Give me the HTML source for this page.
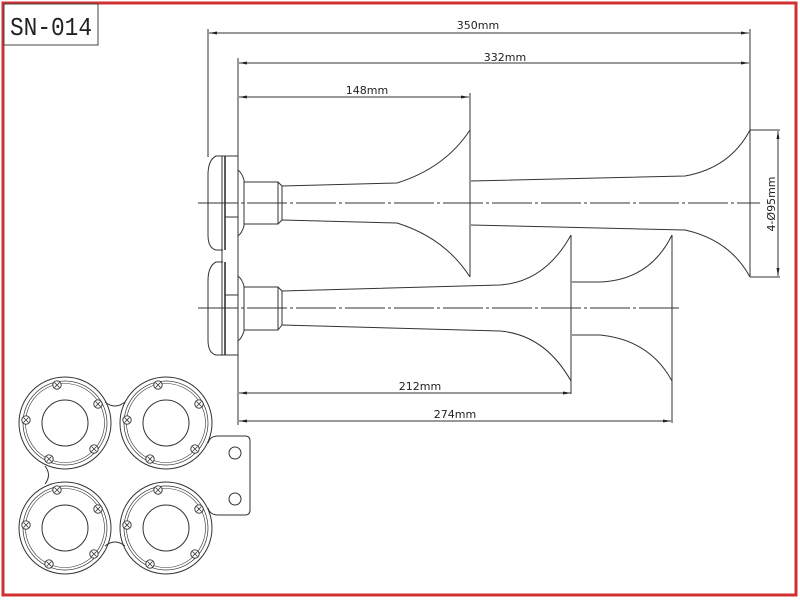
<!DOCTYPE html>
<html><head><meta charset="utf-8"><style>
html,body{margin:0;padding:0;background:#fff;}
svg{display:block;}
text{font-family:"DejaVu Sans","Liberation Sans",sans-serif;fill:#222;}
</style></head><body>
<svg width="800" height="600" viewBox="0 0 800 600" xmlns="http://www.w3.org/2000/svg">
<defs>
<marker id="a" markerWidth="8" markerHeight="6" refX="8" refY="3" orient="auto-start-reverse" markerUnits="userSpaceOnUse"><path d="M0,1.5 L8,3 L0,4.5 z" fill="#222"/></marker>
<g id="scr"><circle r="4.2" fill="#fff" stroke="#333" stroke-width="0.9"/><path d="M-2.5,-2.5 L2.5,2.5 M-2.5,2.5 L2.5,-2.5" stroke="#333" stroke-width="0.8"/></g>
<g id="flange" fill="none" stroke="#333" stroke-width="1">
<circle r="46"/><circle r="42" stroke-width="0.7"/><circle r="39.5" stroke-width="0.6"/><circle r="23"/>
<use href="#scr" x="-8" y="-38"/><use href="#scr" x="33" y="-19"/><use href="#scr" x="29" y="26"/><use href="#scr" x="-16" y="36"/><use href="#scr" x="-39" y="-3"/>
</g>
</defs>
<rect x="3" y="3" width="793" height="592" fill="none" stroke="#d03030" stroke-width="3"/>
<rect x="4" y="4" width="94" height="41" fill="#fff" stroke="#444" stroke-width="1"/>
<text x="10" y="35" font-size="26" textLength="82" lengthAdjust="spacingAndGlyphs" style="font-family:'Liberation Mono',monospace">SN-014</text>

<g fill="none" stroke="#333" stroke-width="1">
<line x1="208" y1="29" x2="208" y2="157"/>
<line x1="238" y1="58" x2="238" y2="425"/>
<line x1="750" y1="29" x2="750" y2="130"/>
<line x1="470" y1="93" x2="470" y2="130"/>
<line x1="750" y1="130" x2="780" y2="130"/>
<line x1="750" y1="277" x2="780" y2="277"/>
<line x1="209" y1="33" x2="749" y2="33" marker-start="url(#a)" marker-end="url(#a)"/>
<line x1="239" y1="63" x2="749" y2="63" marker-start="url(#a)" marker-end="url(#a)"/>
<line x1="239" y1="97" x2="469" y2="97" marker-start="url(#a)" marker-end="url(#a)"/>
<line x1="778" y1="131" x2="778" y2="276" marker-start="url(#a)" marker-end="url(#a)"/>
<line x1="239" y1="393" x2="571" y2="393" marker-start="url(#a)" marker-end="url(#a)"/>
<line x1="239" y1="421" x2="671" y2="421" marker-start="url(#a)" marker-end="url(#a)"/>

<path d="M223,156 L216,156 Q208,160 208,175 L208,235 Q208,248 216,250 L223,250"/>
<path d="M223,262 L216,262 Q208,266 208,281 L208,340 Q208,353 216,355 L223,355"/>
<rect x="222" y="156" width="16" height="199"/>
<line x1="225" y1="156" x2="225" y2="250" stroke-width="1.6"/>
<line x1="225" y1="262" x2="225" y2="355" stroke-width="1.6"/>
<line x1="225" y1="217" x2="238" y2="217"/>
<line x1="225" y1="295" x2="238" y2="295"/>

<path d="M238,170 Q242,173 244,180 L244,226 Q242,233 238,236"/>
<rect x="244" y="182" width="34" height="42"/>
<path d="M278,182 L282,186 L282,220 L278,224"/>
<path d="M282,186 L397,183 Q445,168 470,130"/>
<path d="M282,220 L397,223 Q445,238 470,277"/>
<line x1="470" y1="130" x2="470" y2="277"/>
<path d="M471,181 L685,176 Q730,168 750,130"/>
<path d="M471,225 L685,230 Q730,240 750,277"/>
<line x1="750" y1="130" x2="750" y2="277"/>

<path d="M238,276 Q242,279 244,286 L244,331 Q242,338 238,341"/>
<rect x="244" y="287" width="34" height="43"/>
<path d="M278,287 L282,291 L282,325 L278,330"/>
<path d="M282,291 L500,285 Q545,282 571,235"/>
<path d="M282,325 L500,331 Q545,335 571,381"/>
<line x1="571" y1="235" x2="571" y2="394"/>
<path d="M572,282 L600,282 Q650,280 672,235"/>
<path d="M572,335 L600,335 Q650,340 672,381"/>
<line x1="672" y1="235" x2="672" y2="423"/>
</g>
<g stroke="#333" stroke-width="1" stroke-dasharray="40,3,3,3">
<line x1="198" y1="203" x2="760" y2="203"/>
<line x1="198" y1="308" x2="682" y2="308"/>
</g>
<g font-size="11" text-anchor="middle">
<text x="478" y="29">350mm</text>
<text x="505" y="61">332mm</text>
<text x="367" y="94">148mm</text>
<text x="420" y="390">212mm</text>
<text x="455" y="418">274mm</text>
<text x="0" y="0" transform="translate(775,204) rotate(-90)">4-Ø95mm</text>
</g>

<g fill="none" stroke="#333" stroke-width="1">
<path d="M105,402 Q115,410 125,402"/>
<path d="M105,546 Q115,538 125,546"/>
<path d="M45,466 Q52,475 45,484"/>
<path d="M208,443 Q210,436 218,436 L245,436 Q250,436 250,441 L250,510 Q250,515 245,515 L218,515 Q210,515 208,508"/>
<circle cx="235" cy="453" r="6"/>
<circle cx="235" cy="499" r="6"/>
</g>
<use href="#flange" x="65" y="423"/>
<use href="#flange" x="166" y="423"/>
<use href="#flange" x="65" y="528"/>
<use href="#flange" x="166" y="528"/>
</svg>
</body></html>
